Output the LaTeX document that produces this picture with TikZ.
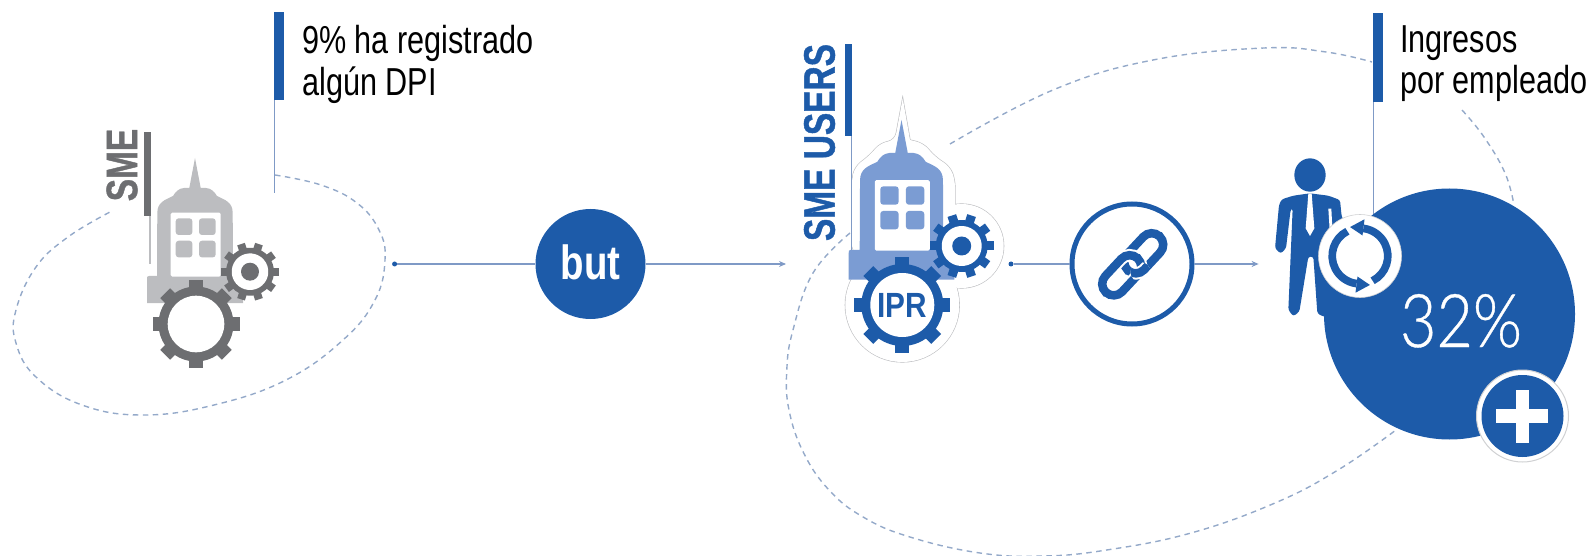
\documentclass[tikz,border=0pt]{standalone}
\usepackage{fontspec}
\setmainfont{Liberation Sans}
\newfontfamily\narrowfont[FakeStretch=0.785]{Liberation Sans}
\newfontfamily\hubfont[FakeStretch=0.8]{Liberation Sans}
\newfontfamily\iprfont[FakeStretch=0.85]{Liberation Sans}
\newfontfamily\headfont[FakeStretch=0.76,BoldFeatures={FakeBold=1}]{Liberation Sans}
\newfontfamily\thinfont[FakeStretch=0.85,FakeBold=0.5]{Lato Light}
\usetikzlibrary{arrows.meta}
\definecolor{mainblue}{HTML}{1D5BA9}
\definecolor{lightblue}{HTML}{7B9CD3}
\definecolor{dashblue}{HTML}{94A9C9}
\definecolor{connblue}{HTML}{7F9AC6}
\definecolor{darkgrey}{HTML}{6D6E71}
\definecolor{lightgrey}{HTML}{BCBDC0}
\tikzset{
  dashline/.style={draw=dashblue,line width=1.4pt,dash pattern=on 5.5pt off 4.5pt},
  conn/.style={draw=connblue,line width=1.2pt},
  tipped/.style={conn,-{Stealth[length=7pt,width=6pt,fill=mainblue]}},
  enddot/.style={circle,fill=mainblue,inner sep=0pt,minimum size=5pt},
  hub/.style={circle,fill=mainblue,inner sep=0pt,minimum size=110pt,text=white,font=\fontsize{48}{48}\selectfont\hubfont\bfseries},
  linkhub/.style={circle,draw=mainblue,fill=white,line width=5pt,inner sep=0pt,minimum size=120pt},
  lab/.style={anchor=north west,inner sep=0pt,align=left,text=black,font=\fontsize{39}{41.5}\selectfont\narrowfont},
  sidelab/.style={rotate=90,inner sep=0pt,font=\fontsize{44}{44}\selectfont\headfont\bfseries},
  halodraw/.style={draw=lightgrey,line width=1.2pt},
  halofill/.style={fill=white},
}
\newcommand{\mygear}[9]{%
  \begin{scope}[shift={(#1,#2)},rotate=#9]
    \fill[#8] (0,0) circle[radius=#4];
    \foreach \i in {1,...,#6}{\fill[#8,rotate=\i*360/#6] (-#7/2,0) rectangle (#7/2,#3);}
    \fill[white] (0,0) circle[radius=#5];
  \end{scope}}
\newcommand{\mybuilding}[1]{%
  \fill[#1] (-48,121) .. controls (-48,118.5) .. (-46,118) -- (-38,118) -- (-37.7,55) .. controls (-37.7,44) and (-30,42) .. (-22,38) .. controls (-19,33) and (-16,30.5) .. (-11,30) -- (-5.7,30) -- (0,0) -- (5.7,30) -- (11,30) .. controls (16,30.5) and (19,33) .. (22,38) .. controls (30,42) and (37.7,44) .. (37.7,55) -- (38,118) -- (48,118) -- (48,145) -- (-48,145) -- cycle;
  \fill[white,rounded corners=1.5pt] (-24.3,54.7) rectangle (25.7,118.7);
  \foreach \x in {-19.3,4}{\foreach \y in {60.3,82.7}{
    \fill[#1,rounded corners=3pt] (\x,\y) rectangle ++(16.7,16.7);}}}
\newcommand{\myhalo}[1]{%
  \path[#1,rounded corners=7pt] (851.7,250) -- (851.7,180) -- (855,166.7) -- (870,155) -- (880,143.3) -- (895,140) [sharp corners] -- (902.7,98.3) -- (910,140) [rounded corners=7pt] -- (923.3,143.3) -- (935,156.7) -- (950,166.7) -- (955,180) -- (955,240) -- (905,300) -- cycle;
  \path[#1] (902.3,305) circle[radius=57];
  \path[#1] (961.7,246) circle[radius=42];}
\newcommand{\mylink}[2]{%
  \draw[#2,rounded corners=11.5pt,rotate around={47:(#1)}] ([shift={(-23.25,-11.5)}]#1) rectangle ([shift={(23.25,11.5)}]#1);}
\begin{document}
\begin{tikzpicture}[x=1pt,y=-1pt]
\useasboundingbox (0,0) rectangle (1591,556);
% dashed ovals
\draw[dashline] plot[smooth,tension=.7] coordinates {(275,175)(321,185)(357,203)(379,230)(385,260)(375,300)(343,340)(286,380)(214,405)(143,415)(82,405)(36,377)(16,343)(16,310)(36,267)(68,237)(110,212)};
\draw[dashline] plot[smooth,tension=.7] coordinates {(950,144)(1053,90)(1153,60)(1264,48)(1326,52)(1372,62)};
\draw[dashline] plot[smooth,tension=.7] coordinates {(1462,110)(1484,137)(1505,173)(1514,205)};
\draw[dashline] plot[smooth,tension=.7] coordinates {(850,233)(813,273)(793,330)(786.8,370)(789,410)(803.7,453)(829,490)(862.6,516.7)(909,536.7)(980,553)(1043.6,556)(1106.7,550)(1191,533)(1275,503)(1338,470)(1396,430)};
% left label
\fill[mainblue] (274,12) rectangle (284,100);
\draw[conn] (274.5,100) -- (274.5,193);
\node[lab] (lab1) at (302,25.5) {9\% ha registrado\\algún DPI};
% grey icon
\fill[darkgrey] (144,132) rectangle (151,216);
\draw[lightgrey,line width=1.6pt] (150,216) -- (150,264);
\node[sidelab,text=darkgrey] (sme) at (122,165) {SME};
\begin{scope}[shift={(195,158)}]\mybuilding{lightgrey}\end{scope}
\mygear{196}{324}{43.5}{37.5}{28.3}{8}{14}{darkgrey}{0}
\mygear{250}{271.7}{29}{24}{18.3}{10}{8}{darkgrey}{18}
\fill[darkgrey] (250,271.7) circle[radius=9];
% connector 1
\node[enddot] (d1) at (394.6,264) {};
\node[hub] (but) at (590.5,264) {\raisebox{3pt}{but}};
\coordinate (a1) at (786,264);
\draw[conn] (d1) -- (but);
\draw[tipped] (but) -- (a1);
% blue icon with halo
\myhalo{halodraw}
\myhalo{halofill}
\fill[mainblue] (845,44) rectangle (852,136);
\draw[conn] (851.5,136) -- (851.5,250);
\node[sidelab,text=mainblue] (smeu) at (819.5,142.5) {SME USERS};
\begin{scope}[shift={(901.5,120)},scale=1.1]\mybuilding{lightblue}\end{scope}
\mygear{902.3}{305}{48}{41}{32}{8}{14}{mainblue}{0}
\mygear{961.7}{246}{32}{26}{20}{10}{9}{mainblue}{18}
\fill[mainblue] (961.7,246) circle[radius=9.5];
\node[inner sep=0pt,text=mainblue,font=\fontsize{35}{35}\selectfont\iprfont\bfseries] (ipr) at (902.3,305) {IPR};
% connector 2
\node[enddot] (d2) at (1011,264) {};
\node[linkhub] (link) at (1132,264) {};
\coordinate (a2) at (1258.6,264);
\draw[conn] (d2) -- (link);
\draw[tipped] (link) -- (a2);
% link icon
\begin{scope}[line width=8.5pt]
  \mylink{1143.7,253.3}{mainblue}
  \mylink{1121.7,275.3}{white,line width=12.5pt}
  \mylink{1121.7,275.3}{mainblue}
  \begin{scope}
    \clip (1140.5,272) circle[radius=10];
    \mylink{1143.7,253.3}{white,line width=12.5pt}
    \mylink{1143.7,253.3}{mainblue}
  \end{scope}
\end{scope}
% right label
\fill[mainblue] (1373,13) rectangle (1383,102);
\draw[conn] (1373.5,102) -- (1373.5,215);
\node[lab] (lab2) at (1400,25) {Ingresos\\por empleado};
% person
\begin{scope}[shift={(1260,150)},scale=.33333]
  \fill[mainblue] (150,75) ellipse[x radius=47,y radius=50];
  \fill[mainblue,rounded corners=2.5pt] (150,130) -- (100,137) -- (65,148) -- (57,165) -- (45,295) -- (62,311) -- (78,295) -- (92,178) -- (98,175) -- (85,480) -- (100,499) -- (118,485) -- (145,320) -- (160,320) -- (172,490) -- (190,500) -- (250,500) -- (300,300) -- (245,200) -- (240,150) -- (205,137) -- cycle;
  \fill[white] (205,176) -- (214,176) -- (217,235) -- (209,240) -- cycle;
  \fill[white] (145,131) -- (155,131) -- (163,235) -- (150,258) -- (137,235) -- cycle;
\end{scope}
% big circle
\node[circle,fill=mainblue,inner sep=0pt,minimum size=251pt] (big) at (1449.5,314) {};
\node[inner sep=0pt,anchor=base,text=white,font=\fontsize{74}{74}\selectfont\thinfont] (pct) at (1461,347) {32\%};
% reload
\node[circle,fill=white,draw=lightgrey!70,line width=.6pt,inner sep=0pt,minimum size=83pt] (reload) at (1360,256) {};
\begin{scope}[shift={(1360,256)}]
  \draw[mainblue,line width=7.7pt] (-117:27.8) arc[start angle=-117,end angle=-263,radius=27.8];
  \fill[mainblue] (-263:20.7) -- (-289:30.6) -- (-263:37) -- cycle;
  \draw[mainblue,line width=7.7pt] (-297:27.8) arc[start angle=-297,end angle=-443,radius=27.8];
  \fill[mainblue] (-443:20.7) -- (-469:30.6) -- (-443:37) -- cycle;
\end{scope}
% plus
\node[circle,fill=white,draw=lightgrey!70,line width=1pt,inner sep=0pt,minimum size=92pt] (plusring) at (1522.5,416) {};
\node[circle,fill=mainblue,inner sep=0pt,minimum size=82pt] (plus) at (1522.5,416) {};
\fill[white] (1495.5,409) rectangle (1548,423);
\fill[white] (1515.5,390) rectangle (1529,443);
\end{tikzpicture}
\end{document}
